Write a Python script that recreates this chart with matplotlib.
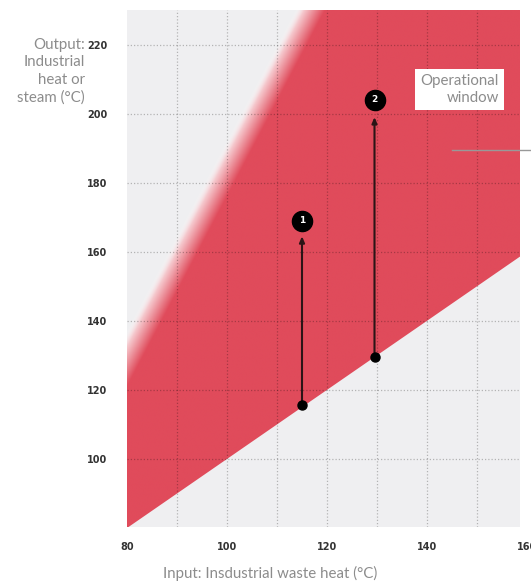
import numpy as np
import matplotlib
matplotlib.use("Agg")
import matplotlib.pyplot as plt
from matplotlib.patches import Polygon

# lower limit of the window: output equals input
lower_x = [80, 160]
lower_y = [80, 160]
# upper edge of the window (fades out)
upper_x = [80, 119.6]
upper_y = [121, 230]

case_labels = ["1", "2"]
case_input = [115, 129.5]
case_start = [115.5, 129.6]
case_arrow_top = [164.5, 199]
case_marker_y = [169, 204]

x_ticks = [80, 100, 120, 140, 160]
y_ticks = [100, 120, 140, 160, 180, 200, 220]

RED = np.array([224, 75, 91]) / 255
BG = "#efeff1"
LABEL_GREY = "#8c8c8c"
TICK_FONT = ["Liberation Sans Narrow", "DejaVu Sans"]
LABEL_FONT = ["Lato", "DejaVu Sans"]

xlim = (80, 158.6)
ylim = (80.3, 230)

fig = plt.figure(figsize=(5.31, 5.83), dpi=100)
ax = fig.add_axes([127 / 531, 1 - 527 / 583, (520 - 127) / 531, (527 - 10) / 583])
ax.set_facecolor(BG)
ax.set_xlim(*xlim)
ax.set_ylim(*ylim)

# gradient fill of the operational window
nx, ny = 900, 900
gx = np.linspace(xlim[0], xlim[1], nx)
gy = np.linspace(ylim[0], ylim[1], ny)
X, Y = np.meshgrid(gx, gy)
slope = (upper_y[1] - upper_y[0]) / (upper_x[1] - upper_x[0])
edge_x = upper_x[0] + (Y - upper_y[0]) / slope
d = edge_x - X  # >0 means left of (above) the red edge
band = 6.0
t = np.clip(d / band, 0, 1)
rgba = np.zeros((ny, nx, 4))
for k in range(3):
    rgba[..., k] = RED[k] * (1 - t) + 1.0 * t
alpha = np.where(t < 0.7, 1.0, 1 - (t - 0.7) / 0.3)
rgba[..., 3] = np.clip(alpha, 0, 1)
im = ax.imshow(rgba, origin="lower", extent=(xlim[0], xlim[1], ylim[0], ylim[1]),
               aspect="auto", interpolation="bilinear", zorder=1)
clip = Polygon([(lower_x[0], lower_y[0]), (lower_x[1], lower_y[1]),
                (lower_x[1], ylim[1]), (lower_x[0], ylim[1])],
               closed=True, transform=ax.transData)
im.set_clip_path(clip)

# dotted grid
for gxv in range(90, 160, 10):
    ax.axvline(gxv, color="black", alpha=0.25, lw=0.9, ls=(0, (1, 1.6)), zorder=2)
for gyv in y_ticks:
    ax.axhline(gyv, color="black", alpha=0.25, lw=0.9, ls=(0, (1, 1.6)), zorder=2)

# cases
for lab, xi, y0, y1, ym in zip(case_labels, case_input, case_start, case_arrow_top, case_marker_y):
    ax.annotate("", xy=(xi, y1), xytext=(xi, y0),
                arrowprops=dict(arrowstyle="-|>,head_length=0.35,head_width=0.15",
                                color="#2b1416", lw=1.5, shrinkA=0, shrinkB=0), zorder=4)
    ax.plot([xi], [y0], "o", color="black", ms=6.5, zorder=5)
    ax.plot([xi], [ym], "o", color="black", ms=14.5, zorder=5)
    ax.text(xi, ym, lab, color="white", fontsize=6.5, fontweight="bold",
            ha="center", va="center", family=TICK_FONT, zorder=6)

# operational window label
ax.text(154.4, 207, "Operational\nwindow", ha="right", va="center", fontsize=10.8,
        color=LABEL_GREY, family=LABEL_FONT, linespacing=1.25, zorder=6,
        bbox=dict(boxstyle="square,pad=0.35", fc="white", ec="none"))
ax.plot([145, 161], [189.5, 189.5], color="#999999", lw=1.0, clip_on=False, zorder=6)

for s in ax.spines.values():
    s.set_visible(False)
ax.set_xticks([v for v in x_ticks if v <= xlim[1]])
ax.set_yticks(y_ticks)
ax.tick_params(length=0, labelsize=7, labelcolor="#333333")
ax.tick_params(axis="y", pad=14)
ax.tick_params(axis="x", pad=11)
for lbl in ax.get_xticklabels() + ax.get_yticklabels():
    lbl.set_fontfamily(TICK_FONT)
    lbl.set_fontweight("bold")
# last x tick sits just beyond the plotted range
ax.annotate(str(x_ticks[-1]), xy=(x_ticks[-1], 0), xycoords=("data", "axes fraction"),
            xytext=(0, -11), textcoords="offset points", ha="center", va="top",
            fontsize=7, fontweight="bold", color="#333333", family=TICK_FONT,
            annotation_clip=False)

fig.text(85 / 531, 1 - 38 / 583, "Output:\nIndustrial\nheat or\nsteam (°C)", ha="right", va="top",
         fontsize=10.8, color=LABEL_GREY, family=LABEL_FONT, linespacing=1.3)
fig.text(270 / 531, 1 - 573 / 583, "Input: Insdustrial waste heat (°C)", ha="center", va="center",
         fontsize=10.8, color=LABEL_GREY, family=LABEL_FONT)

fig.savefig("out.png", dpi=100)
